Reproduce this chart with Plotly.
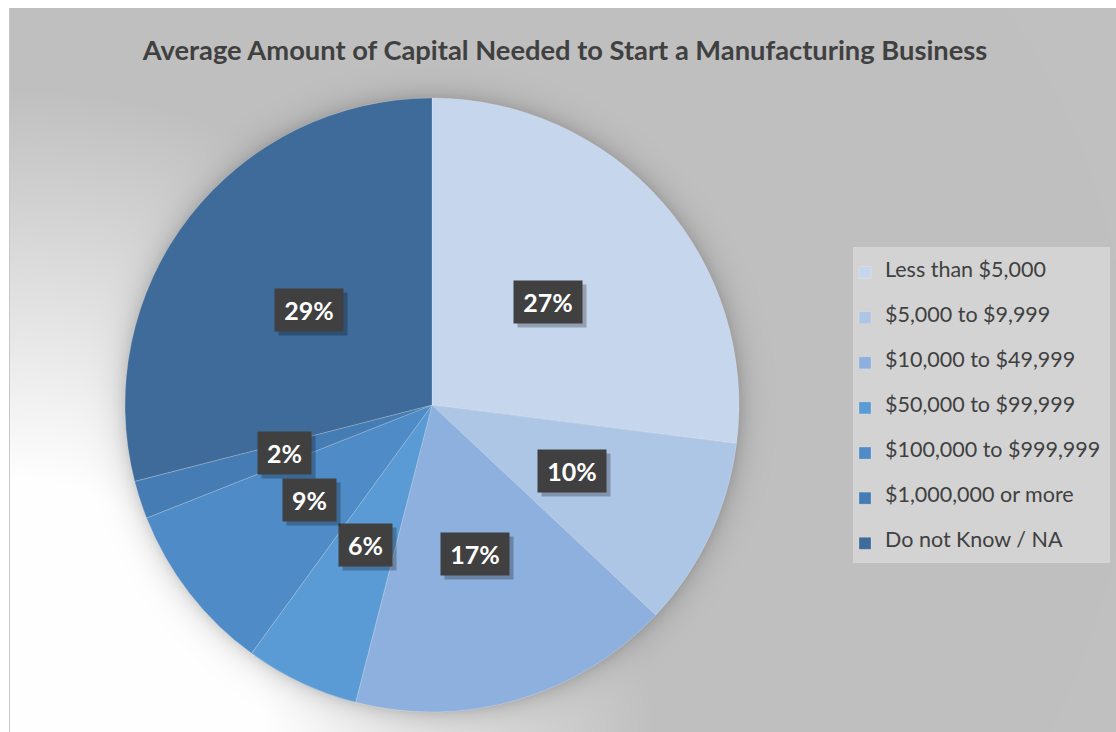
import zlib, struct, base64
import numpy as np
import plotly.graph_objects as go

# ---------------- data ----------------
categories = ["Less than $5,000", "$5,000 to $9,999", "$10,000 to $49,999",
              "$50,000 to $99,999", "$100,000 to $999,999", "$1,000,000 or more",
              "Do not Know / NA"]
values = [27, 10, 17, 6, 9, 2, 29]
colors = ["#c6d6ec", "#adc6e6", "#8db0de", "#5b9bd5", "#4f8bc6", "#467cb4", "#3e6b99"]
title_text = "Average Amount of Capital Needed to Start a Manufacturing Business"

W, H = 1116, 732
# pie placement (pixels)
CX, CY, R = 432, 405, 307
dom_x = [(CX - R) / W, (CX + R) / W]
dom_y = [1 - (CY + R) / H, 1 - (CY - R) / H]

# ---------------- background image (gradient + pie shadow) ----------------
yy, xx = np.mgrid[0:H, 0:W].astype(float)
d = np.hypot(xx - 10, yy - 732)
t = np.clip((d - 250) / 390, 0, 1)
base = 255 - t * 63
dp = np.hypot(xx - CX, yy - CY) - R
shadow = np.where(dp > 0, 0.16 * np.exp(-np.maximum(dp, 0) / 11.0), 0.16)
img = base * (1 - shadow)
img[:8, :] = 255
img[:, :9] = 255
img[8:, 9:10] = 200
arr = np.clip(np.stack([img] * 3, axis=-1), 0, 255).astype(np.uint8)


def png_bytes(a):
    h, w, _ = a.shape
    raw = b"".join(b"\x00" + a[y].tobytes() for y in range(h))

    def chunk(tag, data):
        c = struct.pack(">I", len(data)) + tag + data
        return c + struct.pack(">I", zlib.crc32(tag + data) & 0xffffffff)

    return (b"\x89PNG\r\n\x1a\n"
            + chunk(b"IHDR", struct.pack(">IIBBBBB", w, h, 8, 2, 0, 0, 0))
            + chunk(b"IDAT", zlib.compress(raw, 9))
            + chunk(b"IEND", b""))


bg_src = "data:image/png;base64," + base64.b64encode(png_bytes(arr)).decode()

# ---------------- figure ----------------
legend_labels = ["\u00a0<br><span style='font-size:21.5px'>" + c + "</span><br>\u00a0" for c in categories]

fig = go.Figure(go.Pie(
    labels=legend_labels,
    values=values,
    sort=False,
    direction="clockwise",
    rotation=0,
    marker=dict(colors=colors, line=dict(color="rgba(255,255,255,0.2)", width=1)),
    textinfo="none",
    hoverinfo="skip",
    domain=dict(x=dom_x, y=dom_y),
    automargin=False,
))

# data labels: boxes at half radius of each slice's mid angle
total = sum(values)
cum = 0
annotations = []
for v in values:
    mid = (cum + v / 2) / total * 2 * np.pi
    cum += v
    px = CX + 0.505 * R * np.sin(mid)
    py = CY - 0.505 * R * np.cos(mid)
    txt = f"{round(v / total * 100)}%"
    bw = 15 * len(txt) + 23
    common = dict(xref="paper", yref="paper", showarrow=False, xanchor="center",
                  yanchor="middle", width=bw, height=42, borderpad=0)
    annotations.append(dict(x=(px + 4) / W, y=1 - (py + 4) / H, text="",
                            bgcolor="rgba(0,0,0,0.25)", **common))
    annotations.append(dict(x=px / W, y=1 - py / H, text="<b>" + txt + "</b>",
                            bgcolor="rgb(64,64,64)",
                            font=dict(family="Lato", size=25, color="white"), **common))

fig.update_layout(
    width=W, height=H,
    margin=dict(l=0, r=0, t=0, b=0),
    paper_bgcolor="white",
    plot_bgcolor="white",
    images=[dict(source=bg_src, xref="paper", yref="paper", x=0, y=1, sizex=1, sizey=1,
                 xanchor="left", yanchor="top", sizing="stretch", layer="below")],
    shapes=[dict(type="rect", xref="paper", yref="paper",
                 x0=853 / W, x1=1110 / W, y0=1 - 563 / H, y1=1 - 247 / H,
                 fillcolor="#d3d3d3", line=dict(width=0), layer="below")],
    title=dict(text="<b>" + title_text + "</b>", x=565 / W, y=1 - 50 / H,
               xanchor="center", yanchor="middle", xref="paper", yref="container",
               font=dict(family="Lato", size=27.3, color="#404040")),
    legend=dict(x=845 / W, y=1 - 245 / H, xanchor="left", yanchor="top",
                bgcolor="rgba(0,0,0,0)", borderwidth=0,
                font=dict(family="Lato", size=10.8, color="#404040"),
                valign="middle"),
    annotations=annotations,
    showlegend=True,
)

fig.write_html("out.html")
